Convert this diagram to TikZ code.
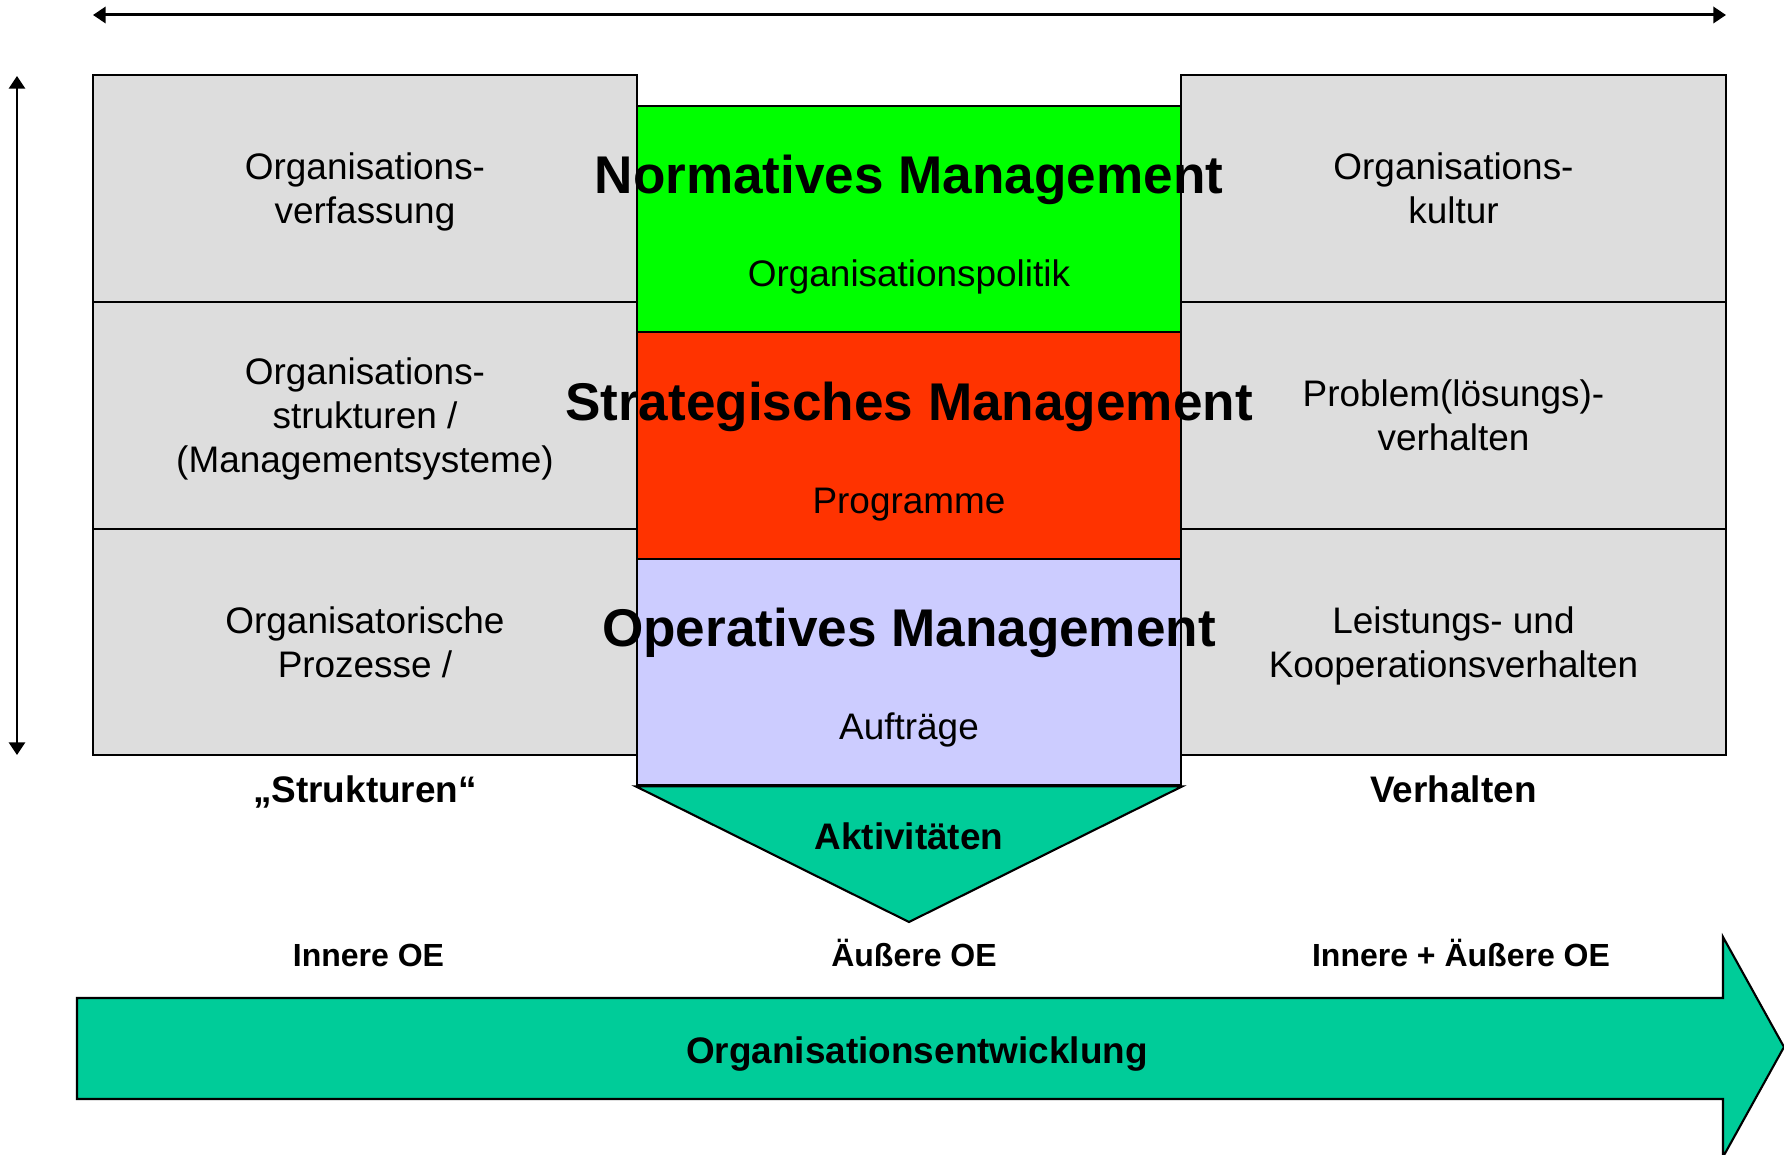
\documentclass[tikz,border=0pt]{standalone}
\usepackage{fontspec}
\setmainfont{Liberation Sans}
\usetikzlibrary{arrows.meta}

\definecolor{normgreen}{HTML}{00FF00}
\definecolor{stratred}{HTML}{FF3300}
\definecolor{opblue}{HTML}{CCCCFF}
\definecolor{boxgrey}{HTML}{DDDDDD}
\definecolor{oeteal}{HTML}{00CC99}

\begin{document}
\begin{tikzpicture}[x=0.01cm, y=-0.01cm, line width=0.6pt,
		field/.style={draw, minimum width=5.44cm, minimum height=2.265cm, inner sep=0pt, text depth=0pt, align=center, font=\fontsize{10.5}{12.5}\selectfont},
		greyfield/.style={field, fill=boxgrey},
		title/.style={anchor=base, font=\fontsize{15.1}{18}\selectfont\bfseries},
		subtitle/.style={anchor=base, font=\fontsize{10.5}{12.5}\selectfont},
		label/.style={anchor=base, font=\fontsize{10.5}{12.5}\selectfont\bfseries},
		smalllabel/.style={anchor=base, font=\fontsize{9.1}{11}\selectfont\bfseries},
		axis/.style={{Triangle[length=3.6pt,width=4.6pt]}-{Triangle[length=3.6pt,width=4.6pt]}}]
	\useasboundingbox (0,0) rectangle (1784,1155);

	% axes
	\coordinate (hl) at (93,15);
	\coordinate (hr) at (1726,15);
	\coordinate (vt) at (17,76);
	\coordinate (vb) at (17,755);
	\draw[axis, line width=0.85pt] (hl) -- (hr);
	\draw[axis] (vt) -- (vb);

	% structures
	\node[greyfield] (verf) at (365,188.5) {Organisations-\\verfassung};
	\node[greyfield] (strukt) at (365,415.5) {Organisations-\\strukturen /\\(Managementsysteme)};
	\node[greyfield] (proz) at (365,642) {Organisatorische\\Prozesse /};

	% behaviour
	\node[greyfield] (kultur) at (1453.5,188.5) {Organisations-\\kultur};
	\node[greyfield] (problem) at (1453.5,415.5) {Problem(lösungs)-\\verhalten};
	\node[greyfield] (leist) at (1453.5,642) {Leistungs- und\\Kooperationsverhalten};

	% management levels
	\node[field, fill=normgreen] (norm) at (909,219) {};
	\node[field, fill=stratred] (strat) at (909,445.5) {};
	\node[field, fill=opblue] (oper) at (909,672) {};

	\coordinate (apex) at (909,922);
	\draw[fill=oeteal] (oper.south west) -- (oper.south east) -- (apex) -- cycle;

	\node[title] (normtitle) at (909,194) {Normatives Management};
	\node[subtitle] (normsub) at (909,287) {Organisationspolitik};
	\node[title] (strattitle) at (909,420.5) {Strategisches Management};
	\node[subtitle] (stratsub) at (909,513.5) {Programme};
	\node[title] (opertitle) at (909,647) {Operatives Management};
	\node[subtitle] (opersub) at (909,740) {Aufträge};

	\node[label] (akt) at (909,849.5) {Aktivitäten};
	\node[label] (strukturen) at (365,802) {„Strukturen“};
	\node[label] (verhalten) at (1453.5,802) {Verhalten};

	\node[smalllabel] (innere) at (368.5,966) {Innere OE};
	\node[smalllabel] (aeussere) at (914,966) {Äußere OE};
	\node[smalllabel] (beide) at (1461,966) {Innere + Äußere OE};

	% development arrow
	\draw[fill=oeteal] (77,998) -- (1723,998) -- (1723,937) -- (1784,1047)
		-- (1723,1157) -- (1723,1099) -- (77,1099) -- cycle;
	\node[label] (oe) at (917,1063) {Organisationsentwicklung};
\end{tikzpicture}
\end{document}
